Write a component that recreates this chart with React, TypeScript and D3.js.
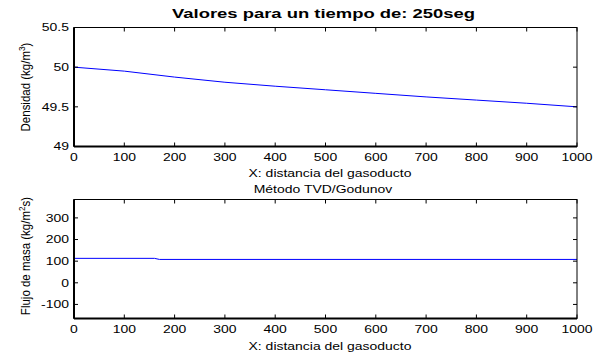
import React from "react";
import * as d3 from "d3";

// ---- data ----
const distance = [0, 100, 200, 300, 400, 500, 600, 700, 800, 900, 1000];
const density = [50.0, 49.95, 49.875, 49.81, 49.76, 49.715, 49.67, 49.625, 49.585, 49.545, 49.5];

const fluxX = [0, 160, 170, 1000];
const fluxY = [113, 113, 108, 108];

const xTicks = [0, 100, 200, 300, 400, 500, 600, 700, 800, 900, 1000];
const densityTicks = [49, 49.5, 50, 50.5];
const fluxTicks = [-100, 0, 100, 200, 300];

const W = 607;
const H = 352;
const FONT = "Liberation Sans, Arial, sans-serif";
const SX = 1.33; // MATLAB text looks stretched horizontally

function SText({ x, y, anchor = "middle", size = 10.5, sx = SX, rotate = 0, weight = "normal", children }: any) {
  const tr = `translate(${x},${y})` + (rotate ? ` rotate(${rotate})` : "") + ` scale(${sx},1)`;
  return (
    <text transform={tr} textAnchor={anchor} fontSize={size} fontFamily={FONT} fontWeight={weight} fill="#000">
      {children}
    </text>
  );
}

function Panel({ top, bottom, yDomain, yTicks, xs, ys, fmt }: any) {
  const left = 74;
  const right = 577;
  const x = d3.scaleLinear().domain([0, 1000]).range([left, right]);
  const y = d3.scaleLinear().domain(yDomain).range([bottom, top]);
  const line = d3
    .line<number>()
    .x((d, i) => x(xs[i]))
    .y((d) => y(d));
  const tl = 4;
  return (
    <g>
      <rect x={left} y={top} width={right - left} height={bottom - top} fill="#fff" stroke="none" />
      <path d={line(ys) || ""} fill="none" stroke="#0000ff" strokeWidth={1} />
      {/* ticks, inward on all four sides */}
      {xTicks.map((t) => (
        <g key={"x" + t}>
          <line x1={x(t)} x2={x(t)} y1={bottom} y2={bottom - tl} stroke="#000" />
          <line x1={x(t)} x2={x(t)} y1={top} y2={top + tl} stroke="#000" />
          <SText x={x(t)} y={bottom + 14.5}>{t}</SText>
        </g>
      ))}
      {yTicks.map((t: number) => (
        <g key={"y" + t}>
          <line x1={left} x2={left + tl} y1={y(t)} y2={y(t)} stroke="#000" />
          <line x1={right} x2={right - tl} y1={y(t)} y2={y(t)} stroke="#000" />
          <SText x={left - 5} y={y(t) + 3.8} anchor="end">{fmt(t)}</SText>
        </g>
      ))}
      <rect x={left} y={top} width={right - left} height={bottom - top} fill="none" stroke="#000" strokeWidth={1} />
      <line x1={left} x2={left} y1={top} y2={bottom} stroke="#000" strokeWidth={2} />
      <line x1={left} x2={right} y1={bottom} y2={bottom} stroke="#000" strokeWidth={2} />
    </g>
  );
}

export default function App() {
  return (
    <svg width={W} height={H} style={{ position: "absolute", left: 0, top: 0, background: "#fff" }}>
      <rect width={W} height={H} fill="#fff" />
      <text x={172} y={18} textLength={303} lengthAdjust="spacingAndGlyphs" fontSize={12.5} fontWeight="bold" fontFamily={FONT}>
        Valores para un tiempo de: 250seg
      </text>

      <Panel top={27.5} bottom={146.5} yDomain={[49, 50.5]} yTicks={densityTicks} xs={distance} ys={density} fmt={(d: number) => String(d)} />
      <SText x={330} y={176.5}>X: distancia del gasoducto</SText>
      <SText x={323} y={193}>Método TVD/Godunov</SText>
      <SText x={30} y={87} rotate={-90} sx={0.92} size={12.5}>
        Densidad (kg/m<tspan dy={-5} fontSize={9}>3</tspan>
        <tspan dy={5}>)</tspan>
      </SText>

      <Panel top={199.5} bottom={318.5} yDomain={[-165, 385]} yTicks={fluxTicks} xs={fluxX} ys={fluxY} fmt={(d: number) => String(d)} />
      <SText x={330} y={349.5}>X: distancia del gasoducto</SText>
      <SText x={30} y={256} rotate={-90} sx={0.92} size={12.5}>
        Flujo de masa (kg/m<tspan dy={-5} fontSize={9}>2</tspan>
        <tspan dy={5}>s)</tspan>
      </SText>
    </svg>
  );
}
